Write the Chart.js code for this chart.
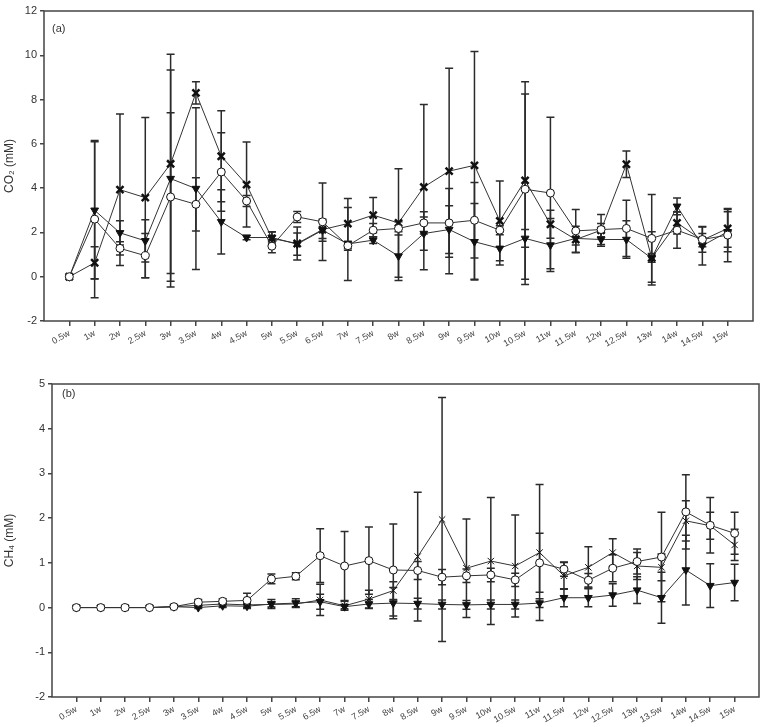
<!DOCTYPE html>
<html>
<head>
<meta charset="utf-8">
<script src="https://cdn.jsdelivr.net/npm/chart.js@4"></script>
<style>
  body { margin: 0; background: #fff; }
  .panel { position: absolute; left: 0; }
</style>
</head>
<body>
<div class="panel" style="top:0px"><canvas id="chartA" width="766" height="360"></canvas></div>
<div class="panel" style="top:360px"><canvas id="chartB" width="766" height="367"></canvas></div>
<script>
// weeks on the x axis
const weeksA = ['0.5w','1w','2w','2.5w','3w','3.5w','4w','4.5w','5w','5.5w','6.5w','7w','7.5w','8w','8.5w',
  '9w','9.5w','10w','10.5w','11w','11.5w','12w','12.5w','13w','14w','14.5w','15w'];
const weeksB = ['0.5w','1w','2w','2.5w','3w','3.5w','4w','4.5w','5w','5.5w','6.5w','7w','7.5w','8w','8.5w',
  '9w','9.5w','10w','10.5w','11w','11.5w','12w','12.5w','13w','13.5w','14w','14.5w','15w'];

// (a) CO2
const co2Circle = [0,2.6,1.28,0.95,3.6,3.27,4.73,3.42,1.38,2.7,2.48,1.4,2.1,2.18,2.43,2.43,2.55,2.1,3.95,3.78,2.07,2.13,2.18,1.73,2.1,1.68,1.88];
const co2CircleErr = [0,3.55,0.3,1.0,3.8,1.2,1.77,0.25,0.3,0.25,1.75,0.2,0.3,0.3,0.5,1.55,1.7,0.2,4.3,3.42,0.96,0.68,1.27,1.98,0.82,0.57,1.2];
const co2Tri = [0,3.0,1.98,1.62,4.43,3.98,2.48,1.77,1.77,1.47,2.1,1.48,1.65,0.93,1.95,2.13,1.58,1.28,1.73,1.43,1.73,1.68,1.68,0.83,3.18,1.4,2.03];
const co2TriErr = [0,3.1,0.55,0.95,4.9,3.65,1.45,0.1,0.25,0.5,0.5,1.65,0.15,1.1,0.75,1.08,1.73,0.75,0.4,1.2,0.3,0.3,0.85,1.2,0.38,0.87,0.9];
const co2Cross = [0,0.63,3.93,3.57,5.1,8.3,5.44,4.16,1.73,1.5,2.13,2.4,2.78,2.43,4.05,4.77,5.03,2.52,4.35,2.37,1.68,2.1,5.08,0.85,2.43,1.65,2.18];
const co2CrossErr = [0,0.72,3.42,3.62,4.95,0.5,2.05,1.92,0.3,0.75,0.4,1.13,0.8,2.45,3.73,4.64,5.14,1.8,4.46,0.63,0.6,0.3,0.6,0.2,0.5,0.3,0.85];

// (b) CH4
const ch4Circle = [0,0,0,0,0.02,0.12,0.14,0.16,0.64,0.7,1.16,0.93,1.05,0.84,0.83,0.68,0.71,0.73,0.62,1.0,0.86,0.61,0.88,1.03,1.13,2.14,1.84,1.66];
const ch4CircleErr = [0,0,0,0,0.02,0.06,0.06,0.16,0.11,0.08,0.6,0.77,0.75,1.03,0.2,0.17,0.15,0.15,0.15,0.66,0.16,0.15,0.3,0.28,1.0,0.83,0.62,0.47];
const ch4Tri = [0,0,0,0,0.02,0,0.04,0.03,0.08,0.1,0.13,0.02,0.08,0.1,0.09,0.07,0.06,0.07,0.07,0.1,0.22,0.22,0.28,0.39,0.22,0.84,0.49,0.56];
const ch4TriErr = [0,0,0,0,0,0.02,0.04,0.05,0.1,0.1,0.17,0.05,0.1,0.35,0.12,0.1,0.1,0.1,0.1,0.1,0.2,0.2,0.25,0.3,0.57,0.78,0.49,0.41];
const ch4Cross = [0,0,0,0,0.02,0.05,0.08,0.06,0.07,0.08,0.17,0.04,0.19,0.38,1.14,1.97,0.88,1.04,0.93,1.23,0.71,0.9,1.23,0.93,0.9,1.94,1.83,1.4];
const ch4CrossErr = [0,0,0,0,0.02,0.04,0.05,0.05,0.06,0.06,0.35,0.1,0.2,0.2,1.44,2.73,1.1,1.42,1.14,1.52,0.3,0.46,0.31,0.3,0.3,0.45,0.3,0.35];

const FONT = "'Liberation Sans', Arial, sans-serif";

function pts(arr) {
  return arr.map((v, i) => ({ x: i, y: v }));
}

// error bars drawn below the markers
const errorBars = {
  id: 'errorBars',
  beforeDatasetsDraw(chart) {
    const ctx = chart.ctx;
    const xs = chart.scales.x, ys = chart.scales.y;
    ctx.save();
    ctx.strokeStyle = '#2b2b2b';
    ctx.lineWidth = 1.5;
    chart.data.datasets.forEach(ds => {
      if (!ds.errors) return;
      ds.data.forEach((p, i) => {
        const e = ds.errors[i];
        if (!e) return;
        const px = xs.getPixelForValue(p.x);
        const top = ys.getPixelForValue(p.y + e);
        const bot = ys.getPixelForValue(p.y - e);
        ctx.beginPath();
        ctx.moveTo(px, top); ctx.lineTo(px, bot);
        ctx.moveTo(px - 4, top); ctx.lineTo(px + 4, top);
        ctx.moveTo(px - 4, bot); ctx.lineTo(px + 4, bot);
        ctx.stroke();
      });
    });
    ctx.restore();
  }
};

// box around the plot + panel letter
const frame = {
  id: 'frame',
  afterDraw(chart, args, opts) {
    const a = chart.chartArea;
    const ctx = chart.ctx;
    ctx.save();
    ctx.strokeStyle = '#444';
    ctx.lineWidth = 1.5;
    ctx.strokeRect(a.left, a.top, a.right - a.left, a.bottom - a.top);
    ctx.fillStyle = '#333';
    ctx.font = '11px ' + FONT;
    ctx.textBaseline = 'top';
    ctx.fillText(opts.label, a.left + opts.dx, a.top + opts.dy);
    ctx.restore();
  }
};

function makeChart(id, cfg) {
  const datasets = [
    {
      label: 'circle', data: pts(cfg.circle), errors: cfg.circleErr,
      borderColor: '#333', borderWidth: 1,
      pointStyle: 'circle', pointRadius: 4, pointBackgroundColor: '#fff',
      pointBorderColor: '#111', pointBorderWidth: 1
    },
    {
      label: 'triangle', data: pts(cfg.tri), errors: cfg.triErr,
      borderColor: '#333', borderWidth: 1,
      pointStyle: 'triangle', pointRotation: 180, pointRadius: 4.5,
      pointBackgroundColor: '#111', pointBorderColor: '#111', pointBorderWidth: 1
    },
    {
      label: 'cross', data: pts(cfg.cross), errors: cfg.crossErr,
      borderColor: '#333', borderWidth: 1,
      pointStyle: 'crossRot', pointRadius: cfg.crossRadius,
      pointBorderColor: '#111', pointBorderWidth: cfg.crossWidth
    }
  ];
  const labels = cfg.labels;
  return new Chart(document.getElementById(id), {
    type: 'line',
    data: { datasets: datasets },
    options: {
      responsive: false,
      animation: false,
      devicePixelRatio: 1,
      layout: { padding: cfg.padding },
      plugins: {
        legend: { display: false },
        tooltip: { enabled: false },
        frame: { label: cfg.panel, dx: cfg.labelDx, dy: cfg.labelDy }
      },
      scales: {
        x: {
          type: 'linear',
          min: -1,
          max: labels.length,
          afterBuildTicks: s => { s.ticks = labels.map((_, i) => ({ value: i })); },
          afterFit: s => { s.height = cfg.xHeight; },
          grid: { display: true, drawOnChartArea: false, drawTicks: true, tickLength: 5, color: '#444', lineWidth: 1.5 },
          border: { display: false },
          ticks: {
            autoSkip: false,
            minRotation: 30,
            maxRotation: 30,
            padding: 2,
            color: '#444',
            font: { family: FONT, size: 9 },
            callback: v => labels[v]
          }
        },
        y: {
          min: cfg.yMin,
          max: cfg.yMax,
          afterFit: s => { s.width = cfg.yWidth; },
          grid: { display: true, drawOnChartArea: false, drawTicks: true, tickLength: 4, color: '#444', lineWidth: 1.5 },
          border: { display: false },
          ticks: {
            stepSize: cfg.yStep,
            padding: 3,
            color: '#333',
            font: { family: FONT, size: 11 }
          },
          title: {
            display: true,
            text: cfg.yTitle,
            color: '#333',
            font: { family: FONT, size: 12 },
            padding: { top: 2, bottom: 2 }
          }
        }
      }
    },
    plugins: [errorBars, frame]
  });
}

makeChart('chartA', {
  labels: weeksA,
  circle: co2Circle, circleErr: co2CircleErr,
  tri: co2Tri, triErr: co2TriErr,
  cross: co2Cross, crossErr: co2CrossErr,
  crossRadius: 5, crossWidth: 2.5,
  yMin: -2, yMax: 12, yStep: 2,
  yTitle: 'CO₂ (mM)',
  yWidth: 44, xHeight: 39,
  padding: { top: 11, right: 13, left: 0, bottom: 0 },
  panel: '(a)', labelDx: 8, labelDy: 12
});

makeChart('chartB', {
  labels: weeksB,
  circle: ch4Circle, circleErr: ch4CircleErr,
  tri: ch4Tri, triErr: ch4TriErr,
  cross: ch4Cross, crossErr: ch4CrossErr,
  crossRadius: 4.5, crossWidth: 1,
  yMin: -2, yMax: 5, yStep: 1,
  yTitle: 'CH₄ (mM)',
  yWidth: 52, xHeight: 30,
  padding: { top: 24, right: 7, left: 0, bottom: 0 },
  panel: '(b)', labelDx: 10, labelDy: 4
});
</script>
</body>
</html>
